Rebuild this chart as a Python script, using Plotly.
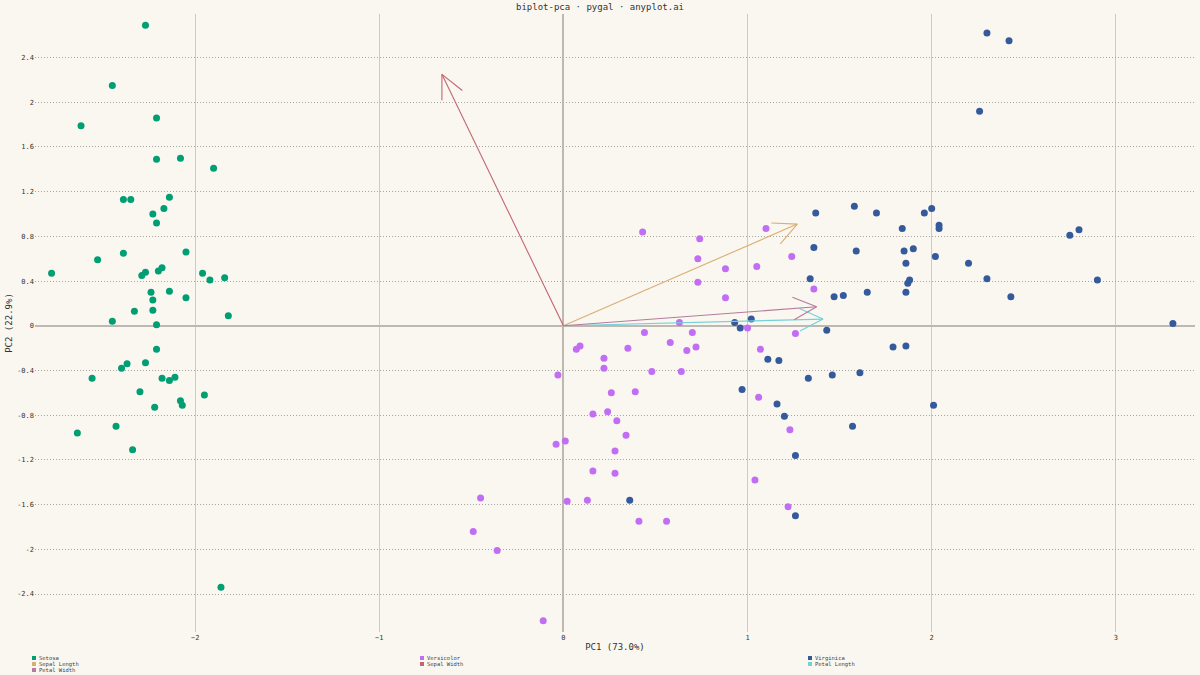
import numpy as np
import plotly.graph_objects as go

setosa_pc1 = [-2.27,-2.45,-2.62,-2.21,-2.21,-2.08,-1.90,-2.39,-2.35,-2.14,-2.23,-2.17,-2.21,-2.39,-2.05,-2.53,-2.18,-2.20,-2.27,-2.29,-2.78,-1.96,-1.92,-1.84,-2.14,-2.05,-2.23,-2.33,-2.23,-1.82,-2.45,-2.21,-2.21,-2.37,-2.27,-2.40,-2.56,-2.18,-2.11,-2.14,-2.30,-1.95,-2.08,-2.07,-2.22,-2.43,-2.64,-2.34,-1.86,-2.24]
setosa_pc2 = [2.69,2.15,1.79,1.86,1.49,1.50,1.41,1.13,1.13,1.15,1.00,1.05,0.92,0.65,0.66,0.59,0.52,0.49,0.48,0.45,0.47,0.47,0.41,0.43,0.31,0.25,0.23,0.13,0.14,0.09,0.04,0.01,-0.21,-0.34,-0.33,-0.38,-0.47,-0.47,-0.46,-0.49,-0.59,-0.62,-0.67,-0.71,-0.73,-0.90,-0.96,-1.11,-2.34,0.30]
versicolor_pc1 = [0.43,0.74,1.10,0.73,0.88,1.05,1.24,0.73,1.36,0.88,0.63,0.44,0.70,1.26,0.09,0.07,0.58,0.35,0.72,0.67,0.22,1.07,0.22,-0.03,0.48,0.64,0.39,0.26,1.06,0.16,0.24,0.29,0.34,1.23,-0.04,0.01,0.28,0.16,0.28,1.04,-0.45,0.02,0.13,1.22,0.41,0.56,-0.49,-0.36,-0.11,1.00]
versicolor_pc2 = [0.84,0.78,0.87,0.60,0.51,0.53,0.62,0.39,0.33,0.25,0.03,-0.06,-0.06,-0.07,-0.18,-0.21,-0.15,-0.20,-0.19,-0.22,-0.29,-0.21,-0.38,-0.44,-0.41,-0.41,-0.59,-0.60,-0.64,-0.79,-0.77,-0.85,-0.98,-0.93,-1.06,-1.03,-1.12,-1.30,-1.32,-1.38,-1.54,-1.57,-1.56,-1.62,-1.75,-1.75,-1.84,-2.01,-2.64,-0.02]
virginica_pc1 = [2.30,2.42,2.26,1.37,1.58,1.70,1.96,2.00,2.04,2.04,1.84,1.36,1.59,1.85,1.90,2.02,2.20,1.86,1.34,1.88,2.30,1.87,1.47,1.52,2.43,1.86,2.75,2.80,2.90,3.31,0.93,1.02,0.96,1.43,1.79,1.86,1.11,1.17,1.61,1.33,1.46,0.97,1.16,2.01,1.20,1.57,1.26,0.36,1.26,1.65]
virginica_pc2 = [2.62,2.55,1.92,1.01,1.07,1.01,1.01,1.05,0.90,0.87,0.87,0.70,0.67,0.67,0.69,0.62,0.56,0.56,0.42,0.41,0.42,0.38,0.26,0.27,0.26,0.30,0.81,0.86,0.41,0.02,0.03,0.06,-0.02,-0.04,-0.19,-0.18,-0.30,-0.31,-0.42,-0.47,-0.44,-0.57,-0.70,-0.71,-0.81,-0.90,-1.16,-1.56,-1.70,0.30]

feature_names = ["Sepal Length", "Sepal Width", "Petal Length", "Petal Width"]
loading_pc1 = [1.27, -0.66, 1.41, 1.375]
loading_pc2 = [0.91, 2.25, 0.06, 0.17]
feature_colors = ["#D9AE72", "#C4646E", "#72D2D8", "#B57A9C"]

species_names = ["Setosa", "Versicolor", "Virginica"]
species_colors = ["#009E73", "#C16EF5", "#355A9C"]

BG = "#FAF7F1"
fig = go.Figure()
for name, xs, ys, c in zip(species_names, [setosa_pc1, versicolor_pc1, virginica_pc1],
                           [setosa_pc2, versicolor_pc2, virginica_pc2], species_colors):
    fig.add_trace(go.Scatter(x=xs, y=ys, mode="markers", name=name,
                             marker=dict(color=c, size=7, line=dict(width=0))))

W, H = 1200, 675
L_M, R_M, T_M, B_M = 35, 5, 14, 43
xr = [-2.87, 3.43]; yr = [-2.74, 2.79]
pw = W - L_M - R_M; ph = H - T_M - B_M
sx = pw / (xr[1] - xr[0]); sy = ph / (yr[1] - yr[0])
for name, lx, ly, c in zip(feature_names, loading_pc1, loading_pc2, feature_colors):
    dx, dy = lx * sx, ly * sy
    L = np.hypot(dx, dy); ux, uy = dx / L, dy / L
    hl = 26
    xs = [0, lx, None]; ys = [0, ly, None]
    for ang in (0.45, -0.45):
        ca, sa = np.cos(ang), np.sin(ang)
        bx = -(ux * ca - uy * sa) * hl; by = -(ux * sa + uy * ca) * hl
        xs += [lx, lx + bx / sx, None]; ys += [ly, ly + by / sy, None]
    fig.add_trace(go.Scatter(x=xs, y=ys, mode="lines", name=name,
                             line=dict(color=c, width=1.1)))

# manual legend (pygal style: 3 columns, row-major)
legend_names = species_names + feature_names
legend_cols = species_colors + feature_colors
col_x = [32, 420, 808]
for i, (n, c) in enumerate(zip(legend_names, legend_cols)):
    col, row = i % 3, i // 3
    px = col_x[col]; py = 658 + row * 6
    fig.add_shape(type="rect", xref="paper", yref="paper",
                  x0=(px - L_M) / pw, x1=(px + 4 - L_M) / pw,
                  y0=(H - B_M - (py + 2)) / ph, y1=(H - B_M - (py - 2)) / ph,
                  fillcolor=c, line=dict(width=0))
    fig.add_annotation(xref="paper", yref="paper", x=(px + 5 - L_M) / pw,
                       y=(H - B_M - py) / ph, text=n, showarrow=False,
                       xanchor="left", yanchor="middle", font=dict(size=5.5, color="#444"))

fig.update_layout(
    width=W, height=H, paper_bgcolor=BG, plot_bgcolor=BG,
    margin=dict(l=L_M, r=R_M, t=T_M, b=B_M),
    font=dict(family="DejaVu Sans Mono", size=7, color="#333"),
    title=dict(text="biplot-pca · pygal · anyplot.ai", x=0.5, y=0.995, yanchor="top",
               font=dict(size=9, color="#333")),
    showlegend=False,
)
fig.update_xaxes(range=xr, tickvals=[-2, -1, 0, 1, 2, 3], showgrid=True,
                 gridcolor="#CFCBC4", gridwidth=1, zeroline=True, zerolinecolor="#BDB9B2",
                 title=dict(text="PC1 (73.0%)", font=dict(size=9), standoff=2),
                 automargin=False, showline=False, ticks="", tickfont=dict(size=7))
fig.update_yaxes(range=yr, tickvals=[-2.4, -2, -1.6, -1.2, -0.8, -0.4, 0, 0.4, 0.8, 1.2, 1.6, 2, 2.4],
                 ticktext=["-2.4", "-2", "-1.6", "-1.2", "-0.8", "-0.4", "0", "0.4", "0.8", "1.2", "1.6", "2", "2.4"],
                 showgrid=True, gridcolor="#A8A49E", griddash="1px,2px", gridwidth=1,
                 zeroline=True, zerolinecolor="#BDB9B2",
                 title=dict(text="PC2 (22.9%)", font=dict(size=9), standoff=2),
                 automargin=False, showline=False, ticks="", tickfont=dict(size=7))
fig.write_html("out.html", config={"displayModeBar": False},
               post_script="document.body.style.margin='0';")
